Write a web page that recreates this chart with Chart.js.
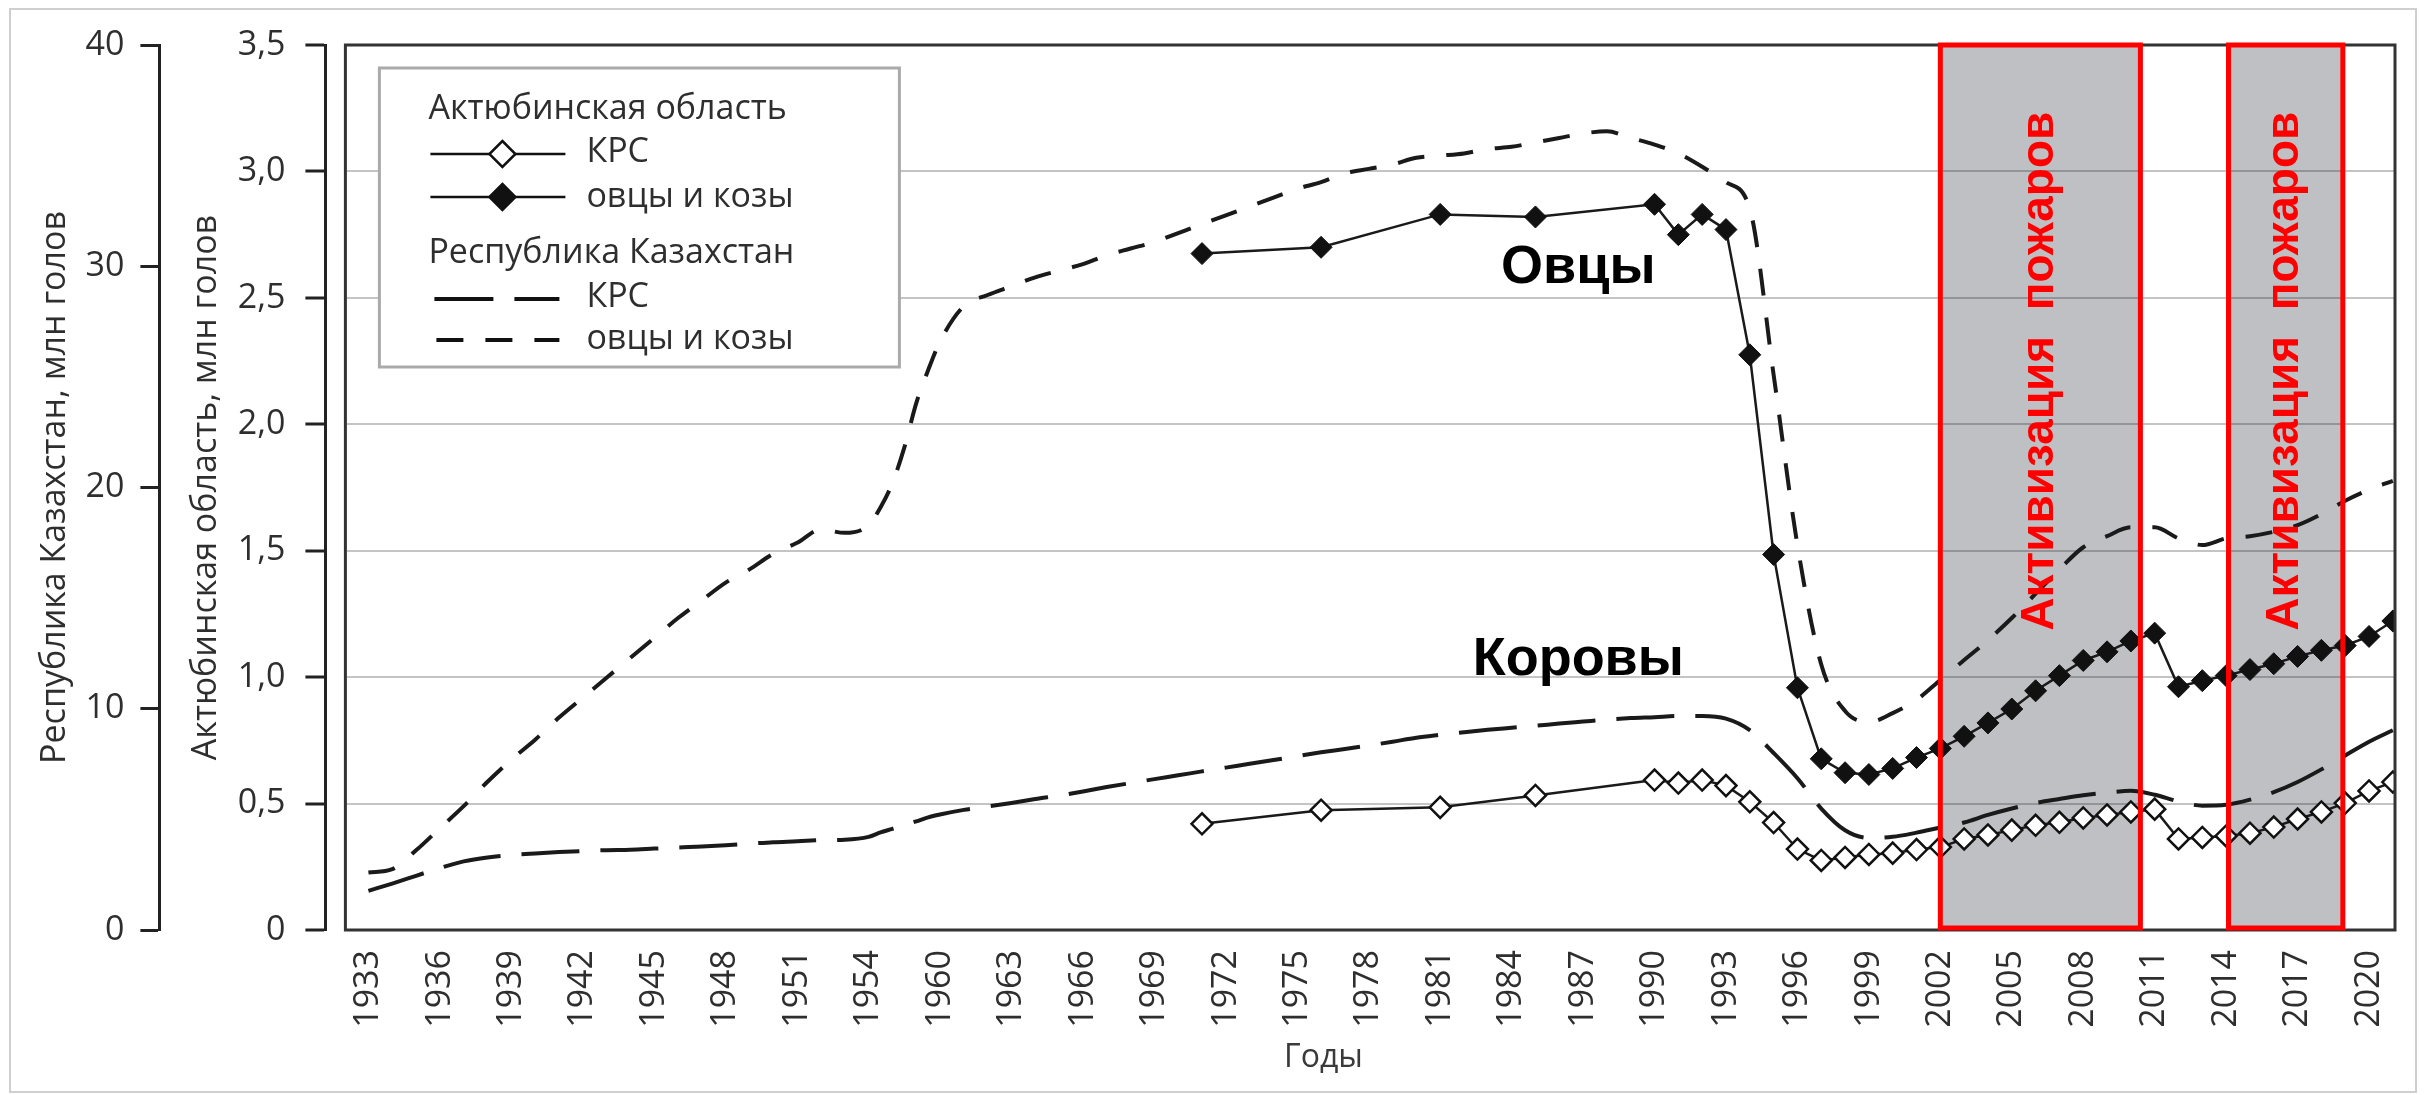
<!DOCTYPE html>
<html><head><meta charset="utf-8">
<script src="https://cdn.jsdelivr.net/npm/chart.js@4.4.1/dist/chart.umd.min.js"></script>
<style>html,body{margin:0;padding:0;background:#fff}canvas{display:block}</style>
</head><body>
<canvas id="c" width="2433" height="1095"></canvas>
<script>
// ---------- data ----------
const tickYears = [1933,1936,1939,1942,1945,1948,1951,1954,1960,1963,1966,1969,1972,1975,1978,1981,1984,1987,1990,1993,1996,1999,2002,2005,2008,2011,2014,2017,2020];

const repYears = [1933,1934,1935,1936,1937,1938,1939,1940,1941,1942,1943,1944,1945,1946,1947,1948,1949,1950,1951,1952,1953,1954,1955,1956,1957,1958,1959,1960,1961,1962,1963,1964,1965,1966,1967,1968,1969,1970,1971,1972,1973,1974,1975,1976,1977,1978,1979,1980,1981,1982,1983,1984,1985,1986,1987,1988,1989,1990,1991,1992,1993,1994,1995,1996,1997,1998,1999,2000,2001,2002,2003,2004,2005,2006,2007,2008,2009,2010,2011,2012,2013,2014,2015,2016,2017,2018,2019,2020,2021];
// Республика Казахстан, млн голов
const repCattle = [1.77,2.1,2.45,2.8,3.1,3.28,3.39,3.46,3.52,3.57,3.61,3.63,3.68,3.73,3.77,3.83,3.9,3.97,4.01,4.06,4.08,4.21,4.41,4.57,4.74,4.91,5.09,5.22,5.43,5.58,5.74,5.92,6.08,6.26,6.46,6.64,6.82,6.99,7.17,7.34,7.51,7.68,7.86,8.03,8.18,8.34,8.51,8.69,8.82,8.94,9.05,9.14,9.23,9.33,9.42,9.51,9.58,9.62,9.67,9.67,9.55,9.03,8.0,6.86,5.49,4.51,4.16,4.21,4.4,4.63,4.86,5.2,5.49,5.74,5.92,6.09,6.21,6.29,6.11,5.81,5.62,5.66,5.89,6.23,6.69,7.26,7.89,8.51,9.03];
const repSheep = [2.6,2.75,3.6,4.6,5.6,6.7,7.7,8.6,9.6,10.5,11.4,12.3,13.2,14.1,14.9,15.7,16.3,17.0,17.5,18.1,17.95,18.3,19.1,20.2,21.8,23.8,25.3,26.6,28.2,28.7,29.1,29.5,29.8,30.1,30.5,30.8,31.1,31.5,31.9,32.3,32.7,33.1,33.5,33.8,34.2,34.4,34.6,34.9,35.0,35.1,35.3,35.4,35.6,35.8,36.0,36.1,35.8,35.5,35.1,34.5,33.8,32.6,25.1,17.4,12.0,9.9,9.4,9.8,10.4,11.3,12.2,13.1,14.1,15.2,16.3,17.3,17.8,18.2,18.2,17.7,17.4,17.7,17.8,18.0,18.3,18.8,19.4,19.9,20.3];

const aktYears = [1971,1976,1981,1985,1990,1991,1992,1993,1994,1995,1996,1997,1998,1999,2000,2001,2002,2003,2004,2005,2006,2007,2008,2009,2010,2011,2012,2013,2014,2015,2016,2017,2018,2019,2020,2021];
// Актюбинская область, млн голов
const aktCattle = [0.42,0.474,0.485,0.532,0.593,0.581,0.593,0.571,0.507,0.425,0.32,0.275,0.287,0.299,0.304,0.318,0.328,0.36,0.376,0.395,0.414,0.426,0.443,0.455,0.467,0.478,0.36,0.366,0.372,0.383,0.407,0.439,0.467,0.502,0.55,0.585];
const aktSheep = [2.675,2.70,2.83,2.82,2.87,2.75,2.83,2.77,2.275,1.485,0.958,0.677,0.622,0.615,0.639,0.682,0.718,0.766,0.819,0.874,0.946,1.006,1.066,1.10,1.143,1.174,0.962,0.986,1.006,1.03,1.053,1.082,1.106,1.125,1.161,1.222];

const fireStart = [2002, 2014.1];
const fireEnd = [2010.4, 2018.9];
const fireLabel = 'Активизация  пожаров';
const fireLabelValue = 2.21;

const noteTexts = ['Овцы', 'Коровы'];
const noteYears = [1986.8, 1986.8];
const noteValues = [2.56, 1.01];

const xTitle = 'Годы';
const xTitleYear = 1976.1;

// ---------- axis mapping (1955–1959 are compressed on the original axis) ----------
function yearToPos(y) {
  if (y <= 1954) return y - 1933;
  if (y >= 1960) return y - 1936;
  return 21 + (y - 1954) / 2;
}
const pts = (years, vals) => years.map((y, i) => ({x: yearToPos(y), y: vals[i]}));

const FONT = '"Open Sans", "Noto Sans", sans-serif';
const BOLD = '"Liberation Sans", Arial, sans-serif';
const TXT = '#2e2e2e';
Chart.defaults.font.family = FONT;
Chart.defaults.color = TXT;

function diamond(ctx, x, y, r, fill, lw) {
  ctx.beginPath();
  ctx.moveTo(x, y - r); ctx.lineTo(x + r, y); ctx.lineTo(x, y + r); ctx.lineTo(x - r, y); ctx.closePath();
  ctx.fillStyle = fill; ctx.fill();
  ctx.lineWidth = lw; ctx.strokeStyle = '#111'; ctx.stroke();
}

const deco = {
  id: 'deco',
  beforeDatasetsDraw(chart) {
    const {ctx, chartArea: a, scales: {x}} = chart;
    ctx.save();
    ctx.fillStyle = 'rgba(0,4,19,0.25)';
    fireStart.forEach((s, i) => {
      const x0 = x.getPixelForValue(yearToPos(s)), x1 = x.getPixelForValue(yearToPos(fireEnd[i]));
      ctx.fillRect(x0, a.top, x1 - x0, a.bottom - a.top);
    });
    ctx.restore();
  },
  afterDatasetsDraw(chart) {
    const {ctx, chartArea: a, scales: {x, y}} = chart;
    ctx.save();
    // plot frame
    ctx.strokeStyle = '#333'; ctx.lineWidth = 3;
    ctx.strokeRect(a.left, a.top, a.right - a.left, a.bottom - a.top);
    // fire periods
    fireStart.forEach((s, i) => {
      const x0 = x.getPixelForValue(yearToPos(s)), x1 = x.getPixelForValue(yearToPos(fireEnd[i]));
      ctx.strokeStyle = '#ff0000'; ctx.lineWidth = 5;
      ctx.strokeRect(x0, a.top, x1 - x0, a.bottom - a.top - 2);
      ctx.save();
      ctx.translate((x0 + x1) / 2, y.getPixelForValue(fireLabelValue));
      ctx.rotate(-Math.PI / 2);
      ctx.fillStyle = '#ff0000';
      ctx.font = 'bold 46px ' + BOLD;
      ctx.textAlign = 'center'; ctx.textBaseline = 'middle';
      ctx.fillText(fireLabel, 0, 0);
      ctx.restore();
    });
    // series notes
    ctx.fillStyle = '#000';
    ctx.font = 'bold 54px ' + BOLD;
    ctx.textAlign = 'center'; ctx.textBaseline = 'alphabetic';
    noteTexts.forEach((t, i) => ctx.fillText(t, x.getPixelForValue(yearToPos(noteYears[i])), y.getPixelForValue(noteValues[i])));
    // legend
    const L = a.left + 34, T = a.top + 23;
    ctx.fillStyle = '#fff';
    ctx.fillRect(L, T, 520, 299);
    ctx.strokeStyle = '#aaa'; ctx.lineWidth = 3;
    ctx.strokeRect(L, T, 520, 299);
    ctx.fillStyle = TXT;
    ctx.font = '34px ' + FONT;
    ctx.textAlign = 'left'; ctx.textBaseline = 'alphabetic';
    const tx = L + 49, sx = L + 207;
    ctx.fillText('Актюбинская область', tx, T + 51);
    ctx.fillText('КРС', sx, T + 94);
    ctx.fillText('овцы и козы', sx, T + 139);
    ctx.fillText('Республика Казахстан', tx, T + 195);
    ctx.fillText('КРС', sx, T + 239);
    ctx.fillText('овцы и козы', sx, T + 281);
    ctx.strokeStyle = '#111';
    ctx.lineWidth = 2.5;
    [T + 86, T + 129].forEach((yy, k) => {
      ctx.beginPath(); ctx.moveTo(L + 51, yy); ctx.lineTo(L + 186, yy); ctx.stroke();
      diamond(ctx, L + 123, yy, 13, k ? '#111' : '#fff', 2.5);
    });
    ctx.lineWidth = 4; ctx.strokeStyle = '#111';
    ctx.setLineDash([59, 21]);
    ctx.beginPath(); ctx.moveTo(L + 55, T + 231); ctx.lineTo(L + 180, T + 231); ctx.stroke();
    ctx.setLineDash([27, 22]);
    ctx.beginPath(); ctx.moveTo(L + 57, T + 272); ctx.lineTo(L + 180, T + 272); ctx.stroke();
    ctx.restore();
  },
  afterDraw(chart) {
    const {ctx, scales: {x}} = chart;
    ctx.save();
    // x-axis title (placed where the original has it, left of centre)
    ctx.fillStyle = '#3a3a3a';
    ctx.font = '32px ' + FONT;
    ctx.textAlign = 'center'; ctx.textBaseline = 'middle';
    ctx.fillText(xTitle, x.getPixelForValue(yearToPos(xTitleYear)), x.bottom - 17);
    // outer frame
    ctx.strokeStyle = '#cfcfcf'; ctx.lineWidth = 2;
    ctx.strokeRect(10, 9, 2406, 1083);
    ctx.restore();
  }
};

new Chart(document.getElementById('c'), {
  type: 'line',
  data: {
    datasets: [
      { label: 'Актюбинская область — КРС', data: pts(aktYears, aktCattle), yAxisID: 'y',
        borderColor: '#1a1a1a', borderWidth: 2.5, tension: 0,
        pointStyle: 'rectRot', pointRadius: 10.5, pointBackgroundColor: '#fff',
        pointBorderColor: '#111', pointBorderWidth: 2.5 },
      { label: 'Актюбинская область — овцы и козы', data: pts(aktYears, aktSheep), yAxisID: 'y',
        borderColor: '#1a1a1a', borderWidth: 2.5, tension: 0,
        pointStyle: 'rectRot', pointRadius: 11, pointBackgroundColor: '#111',
        pointBorderColor: '#111', pointBorderWidth: 1 },
      { label: 'Республика Казахстан — КРС', data: pts(repYears, repCattle), yAxisID: 'y2',
        borderColor: '#1a1a1a', borderWidth: 4, borderDash: [58, 21], pointRadius: 0,
        cubicInterpolationMode: 'monotone' },
      { label: 'Республика Казахстан — овцы и козы', data: pts(repYears, repSheep), yAxisID: 'y2',
        borderColor: '#1a1a1a', borderWidth: 4, borderDash: [27, 22], pointRadius: 0,
        cubicInterpolationMode: 'monotone' }
    ]
  },
  options: {
    responsive: false,
    animation: false,
    devicePixelRatio: 1,
    layout: { padding: { left: 35.4, right: 38, top: 45, bottom: 20 } },
    plugins: { legend: { display: false }, tooltip: { enabled: false } },
    scales: {
      x: {
        type: 'linear', min: -0.966, max: 85.09,
        grid: { display: false, drawTicks: false }, border: { display: false },
        afterBuildTicks: s => { s.ticks = tickYears.map(v => ({ value: yearToPos(v) })); },
        ticks: { autoSkip: false, maxRotation: 90, minRotation: 90, padding: 20,
          font: { size: 34 }, color: TXT,
          callback: (v, i) => String(tickYears[i]) },
        title: { display: false },
        afterFit: s => { s.height = 145; s.paddingLeft = 0; s.paddingRight = 0; }
      },
      ySp: {
        type: 'linear', position: 'left', weight: 0,
        ticks: { display: false }, grid: { display: false, drawTicks: false }, border: { display: false },
        afterFit: s => { s.width = 20; s.paddingTop = 0; s.paddingBottom = 0; }
      },
      y: {
        type: 'linear', position: 'left', weight: 1, min: 0, max: 3.5,
        ticks: { stepSize: 0.5, padding: 20, font: { size: 34 }, color: TXT,
          callback: v => v === 0 ? '0' : v.toFixed(1).replace('.', ',') },
        grid: { color: '#c4c4c4', lineWidth: 2, tickColor: '#222', tickLength: 20, tickWidth: 3 },
        border: { display: true, color: '#222', width: 3 },
        title: { display: true, text: 'Актюбинская область, млн голов', font: { size: 34 }, color: TXT,
          padding: { top: 26.6, bottom: 0 } },
        afterFit: s => { s.width = 166; s.paddingTop = 0; s.paddingBottom = 0; }
      },
      y2: {
        type: 'linear', position: 'left', weight: 2, min: 0, max: 40,
        ticks: { stepSize: 10, padding: 16, font: { size: 34 }, color: TXT },
        grid: { drawOnChartArea: false, tickColor: '#222', tickLength: 19, tickWidth: 3 },
        border: { display: true, color: '#222', width: 3 },
        title: { display: true, text: 'Республика Казахстан, млн голов', font: { size: 34 }, color: TXT,
          padding: { top: 0, bottom: 0 } },
        afterFit: s => { s.width = 124; s.paddingTop = 0; s.paddingBottom = 0; }
      }
    }
  },
  plugins: [deco]
});
</script>
</body></html>
